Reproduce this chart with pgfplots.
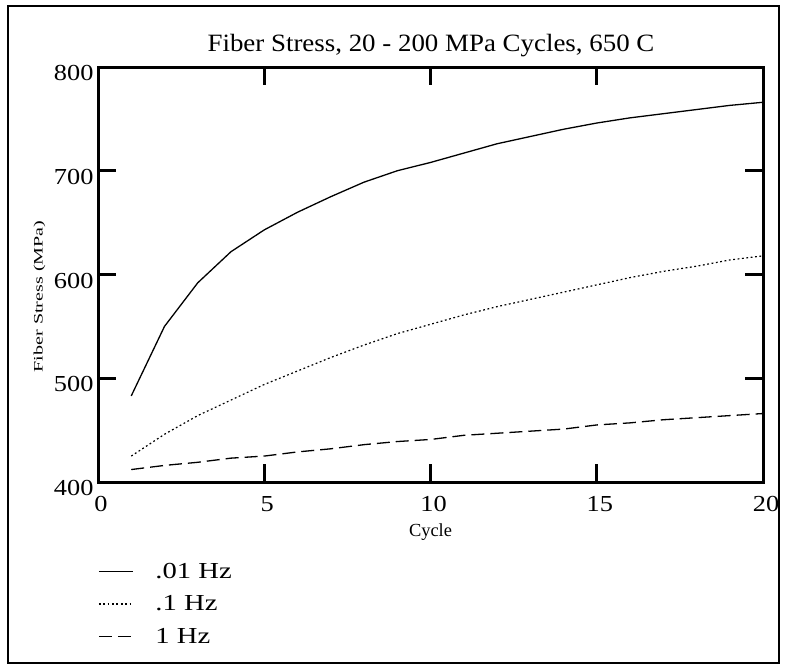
\documentclass[border=0pt]{standalone}
\usepackage{fontspec}
\usepackage{pgfplots}
\pgfplotsset{compat=1.18}
\setmainfont{Liberation Serif}
% wide-set cuts of the serif used for the figure text
\newfontfamily\titlefont{Liberation Serif}[FakeStretch=1.08]
\newfontfamily\tickfont{Liberation Serif}[FakeStretch=1.15]
\newfontfamily\keyfont{Liberation Serif}[FakeStretch=1.25]
\newfontfamily\labfont{Liberation Serif}[FakeStretch=1.55]

% fiber stress (MPa) against cycle number
\pgfplotstableread{
cycle  slow   mid    fast
1      483    425    412
2      550    446    416
3      592    464    419
4      622    479    423
5      643    494    425
6      660    507    429
7      675    520    432
8      689    532    436
9      700    543    439
10     708    552    441
11     717    561    445
12     726    569    447
13     733    576    449
14     740    583    451
15     746    590    455
16     751    597    457
17     755    603    460
18     759    608    462
19     763    614    464
20     766    618    466
}\stress

\begin{document}
\begin{tikzpicture}
\path[use as bounding box] (0bp,0bp) rectangle (789bp,-668bp);
\draw[line width=2bp] (8bp,-6bp) rectangle (779bp,-663bp);

\node[anchor=base, font=\titlefont\fontsize{25}{25}\selectfont] at (431bp,-51bp)
  {Fiber Stress, 20 - 200 MPa Cycles, 650 C};

\begin{axis}[
  at={(98bp,-482bp)}, anchor=south west,
  scale only axis, width=665bp, height=415bp,
  xmin=0, xmax=20, ymin=400, ymax=800,
  xtick={0,5,10,15,20}, ytick={400,500,600,700,800},
  tick align=inside, major tick length=18bp,
  every tick/.style={black, line width=3bp},
  axis line style={line width=3bp},
  /pgf/number format/assume math mode=true,
  xticklabel style={font=\tickfont\fontsize{23}{23}\selectfont, yshift=-11bp, xshift=3bp},
  yticklabel style={font=\tickfont\fontsize{23}{23}\selectfont, yshift=-6bp, xshift=-1bp},
  xlabel={Cycle},
  xlabel style={font=\fontsize{18.5}{18.5}\selectfont, at={(0.5,0)}, yshift=-38bp},
  legend style={draw=none, fill=none, at={(0,-0.19)}, anchor=north west,
    font=\keyfont\fontsize{23}{23}\selectfont, row sep=12bp,
    column sep=0bp, inner sep=0bp},
  legend cell align=left,
  legend image code/.code={\draw[#1] (0bp,0bp) -- (34bp,0bp);},
]
\addplot[black, line width=1.3bp] table[x=cycle, y=slow] {\stress};
\addlegendentry{\hspace*{20bp}.01 Hz}
\addplot[black, line width=1.2bp, dash pattern=on 1.8bp off 2.6bp] table[x=cycle, y=mid] {\stress};
\addlegendentry{\hspace*{20bp}.1 Hz}
\addplot[black, line width=1.3bp, dash pattern=on 13bp off 6bp] table[x=cycle, y=fast] {\stress};
\addlegendentry{\hspace*{20bp}1 Hz}
\end{axis}

\node[rotate=90, anchor=base, font=\labfont\fontsize{13}{13}\selectfont] at (42.7bp,-296.5bp)
  {Fiber Stress (MPa)};
\end{tikzpicture}
\end{document}
